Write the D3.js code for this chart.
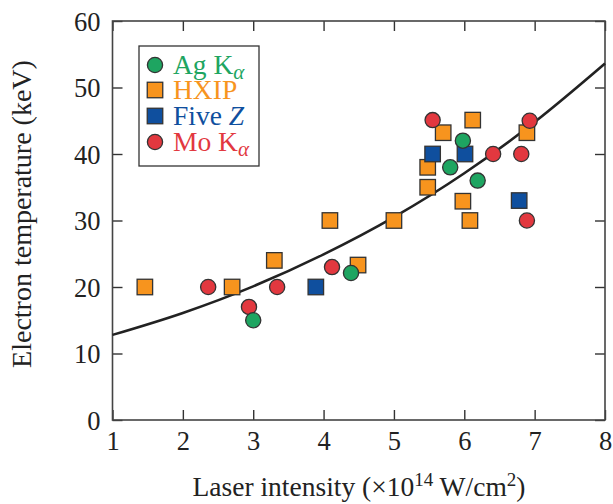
<!DOCTYPE html>
<html>
<head>
<meta charset="utf-8">
<script src="https://cdn.jsdelivr.net/npm/d3@7"></script>
<style>
  html, body { margin: 0; padding: 0; background: #fff; }
  svg { display: block; }
  text { font-family: "Liberation Serif", "DejaVu Serif", serif; fill: #222; }
</style>
</head>
<body>
<svg id="chart" width="613" height="504"></svg>
<script>
// Measured electron temperature (keV) versus laser intensity (x10^14 W/cm^2)
const agKalpha = [[3.0, 15], [4.39, 22.1], [5.8, 38], [5.98, 42], [6.19, 36]];
const hxip = [[1.46, 20], [2.7, 20], [3.3, 24], [4.09, 30], [4.49, 23.3], [5.0, 30],
              [5.48, 35], [5.48, 38], [5.7, 43.2], [5.98, 32.9], [6.08, 30], [6.12, 45.1], [6.89, 43.2]];
const fiveZ = [[3.89, 20], [5.55, 40], [6.01, 40], [6.78, 33]];
const moKalpha = [[2.36, 20], [2.94, 17], [3.34, 20], [4.12, 23], [5.55, 45.1],
                  [6.41, 40], [6.81, 40], [6.89, 30], [6.93, 45]];

// Trend curve through the data
const trendX = [1, 2, 3, 4, 5, 6, 7, 8];
const trendY = [12.8, 16.1, 20.1, 24.9, 30.5, 37.1, 44.8, 53.6];

const xTicks = [1, 2, 3, 4, 5, 6, 7, 8];
const yTicks = [0, 10, 20, 30, 40, 50, 60];

const colors = { ag: "#1ea561", hxip: "#f7941e", five: "#0f4f9e", mo: "#e2383f" };

const svg = d3.select("#chart");
const plotL = 112.5, plotR = 605, plotT = 21, plotB = 420;

const x = d3.scaleLinear().domain([1, 8]).range([plotL, plotR]);
const y = d3.scaleLinear().domain([0, 60]).range([plotB, plotT]);

// Axes with inward ticks on all four sides
const tick = 10;
const axB = svg.append("g").attr("transform", `translate(0,${plotB})`)
  .call(d3.axisBottom(x).tickValues(xTicks).tickSize(-tick).tickPadding(12).tickFormat(d3.format("d")));
const axT = svg.append("g").attr("transform", `translate(0,${plotT})`)
  .call(d3.axisTop(x).tickValues(xTicks).tickSize(-tick).tickFormat(""));
const axL = svg.append("g").attr("transform", `translate(${plotL},0)`)
  .call(d3.axisLeft(y).tickValues(yTicks).tickSize(-tick).tickPadding(12).tickFormat(d3.format("d")));
const axR = svg.append("g").attr("transform", `translate(${plotR},0)`)
  .call(d3.axisRight(y).tickValues(yTicks).tickSize(-tick).tickFormat(""));

[axB, axT, axL, axR].forEach(g => {
  g.select(".domain").remove();
  g.selectAll(".tick line").attr("stroke", "#333").attr("stroke-width", 1.4);
  g.selectAll(".tick text").attr("font-size", 26.5).attr("fill", "#222")
    .style("font-family", '"Liberation Serif", serif');
});
axB.selectAll(".tick text").attr("y", 30).attr("dy", 0);
axL.selectAll(".tick text").attr("dy", "0.34em");

// Frame
svg.append("rect")
  .attr("x", plotL).attr("y", plotT)
  .attr("width", plotR - plotL).attr("height", plotB - plotT)
  .attr("fill", "none").attr("stroke", "#444").attr("stroke-width", 1.6);

// Trend curve
const trend = trendX.map((v, i) => [v, trendY[i]]);
svg.append("path")
  .datum(trend)
  .attr("fill", "none")
  .attr("stroke", "#222")
  .attr("stroke-width", 2.6)
  .attr("d", d3.line().x(d => x(d[0])).y(d => y(d[1])).curve(d3.curveMonotoneX));

// Markers
const r = 7.6, s = 15.5;
function squares(data, color) {
  svg.append("g").selectAll("rect").data(data).join("rect")
    .attr("x", d => x(d[0]) - s / 2).attr("y", d => y(d[1]) - s / 2)
    .attr("width", s).attr("height", s)
    .attr("fill", color).attr("stroke", "#333").attr("stroke-width", 1.3);
}
function circles(data, color) {
  svg.append("g").selectAll("circle").data(data).join("circle")
    .attr("cx", d => x(d[0])).attr("cy", d => y(d[1])).attr("r", r)
    .attr("fill", color).attr("stroke", "#333").attr("stroke-width", 1.3);
}
squares(hxip, colors.hxip);
squares(fiveZ, colors.five);
circles(moKalpha, colors.mo);
circles(agKalpha, colors.ag);

// Legend
const lg = svg.append("g");
lg.append("rect").attr("x", 139).attr("y", 46).attr("width", 120).attr("height", 120)
  .attr("fill", "#fff").attr("stroke", "#333").attr("stroke-width", 1.3);
const items = [
  { shape: "circle", color: colors.ag, parts: [["Ag K", "n"], ["α", "sub"]] },
  { shape: "square", color: colors.hxip, parts: [["HXIP", "n"]] },
  { shape: "square", color: colors.five, parts: [["Five ", "n"], ["Z", "i"]] },
  { shape: "circle", color: colors.mo, parts: [["Mo K", "n"], ["α", "sub"]] }
];
const rowY = [65, 90, 116, 142];
items.forEach((it, i) => {
  const cy = rowY[i];
  if (it.shape === "circle") {
    lg.append("circle").attr("cx", 155).attr("cy", cy).attr("r", r)
      .attr("fill", it.color).attr("stroke", "#333").attr("stroke-width", 1.3);
  } else {
    lg.append("rect").attr("x", 155 - s / 2).attr("y", cy - s / 2).attr("width", s).attr("height", s)
      .attr("fill", it.color).attr("stroke", "#333").attr("stroke-width", 1.3);
  }
  const t = lg.append("text").attr("x", 173).attr("y", cy + 9)
    .attr("font-size", 27.5).style("fill", it.color);
  it.parts.forEach(([str, kind]) => {
    const sp = t.append("tspan").text(str).style("fill", it.color);
    if (kind === "sub") sp.attr("font-style", "italic").attr("font-size", 21).attr("dy", 5);
    if (kind === "i") sp.attr("font-style", "italic");
  });
});

// Axis titles
const xt = svg.append("text").attr("x", 359).attr("y", 496)
  .attr("text-anchor", "middle").attr("font-size", 27.5);
xt.append("tspan").text("Laser intensity (×10");
xt.append("tspan").text("14").attr("font-size", 19).attr("dy", -10);
xt.append("tspan").text(" W/cm").attr("dy", 10);
xt.append("tspan").text("2").attr("font-size", 19).attr("dy", -10);
xt.append("tspan").text(")").attr("dy", 10);

svg.append("text")
  .attr("transform", "translate(31,214) rotate(-90)")
  .attr("text-anchor", "middle").attr("font-size", 28)
  .text("Electron temperature (keV)");
</script>
</body>
</html>
